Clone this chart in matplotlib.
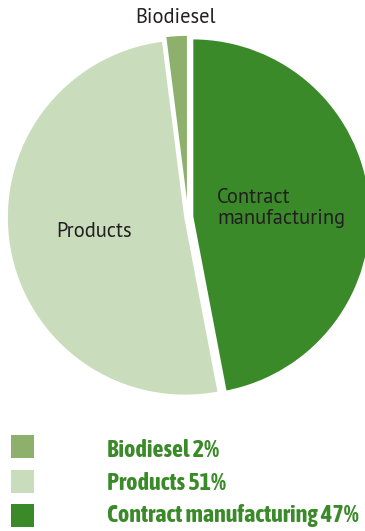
import matplotlib
matplotlib.use("Agg")
import matplotlib.pyplot as plt
from matplotlib.patches import Rectangle
from matplotlib import font_manager as fm
import numpy as np

# Data (legend order)
categories = ["Biodiesel", "Products", "Contract manufacturing"]
shares = [2, 51, 47]
pie_labels = ["Biodiesel", "Products", "Contract\nmanufacturing"]
colors = ["#8db06c", "#c9dcbc", "#3b8a2a"]


def pick(cands):
    for c in cands:
        try:
            fm.findfont(fm.FontProperties(family=c), fallback_to_default=False)
            return c
        except ValueError:
            pass
    return "DejaVu Sans"


label_font = pick(["PT Sans", "Open Sans"])
legend_font = pick(["Asap Condensed", "Barlow Condensed", "DejaVu Sans"])

W, H = 365, 531
fig = plt.figure(figsize=(W / 100, H / 100), dpi=100)
ax = fig.add_axes([0, 0, 1, 1])

# pie drawn clockwise from 12 o'clock: Contract, Products, Biodiesel
order = [2, 1, 0]
vals = [shares[i] for i in order]
cols = [colors[i] for i in order]
labs = [pie_labels[i] for i in order]
explode = [4.5, 3.0, 4.0]          # in pixels (data units)
label_dist = [0.50, 0.52, 1.10]
R = 178
center = (188, H - 217)
wedges, texts = ax.pie(vals, colors=cols, labels=labs, startangle=90,
                       counterclock=False, explode=explode, radius=R,
                       center=center, labeldistance=0.5,
                       wedgeprops=dict(edgecolor="white", linewidth=1.2),
                       textprops=dict(fontsize=14.8, color="#231f20",
                                      family=label_font, fontweight="normal"))
for t, w, d in zip(texts, wedges, label_dist):
    ang = np.deg2rad((w.theta1 + w.theta2) / 2)
    cx, cy = w.center
    t.set_position((cx + d * R * np.cos(ang), cy + d * R * np.sin(ang)))
    t.set_ha("center")
    t.set_va("center")
    t.set_multialignment("left")
    t.set_linespacing(1.15)

ax.set_xlim(0, W)
ax.set_ylim(0, H)
ax.set_aspect("equal")
ax.axis("off")

# Legend
box_tops = [435, 470, 504]
baselines = [457, 490, 522]
for cat, s, c, bt, bl in zip(categories, shares, colors, box_tops, baselines):
    ax.add_patch(Rectangle((11, H - bt - 23), 23, 23, facecolor=c,
                           edgecolor="none"))
    ax.text(107, H - bl, f"{cat} {s}%", ha="left", va="baseline",
            fontsize=17.4, fontweight="bold", color="#3b8a2a",
            family=legend_font)

fig.savefig("out.png", dpi=100)
